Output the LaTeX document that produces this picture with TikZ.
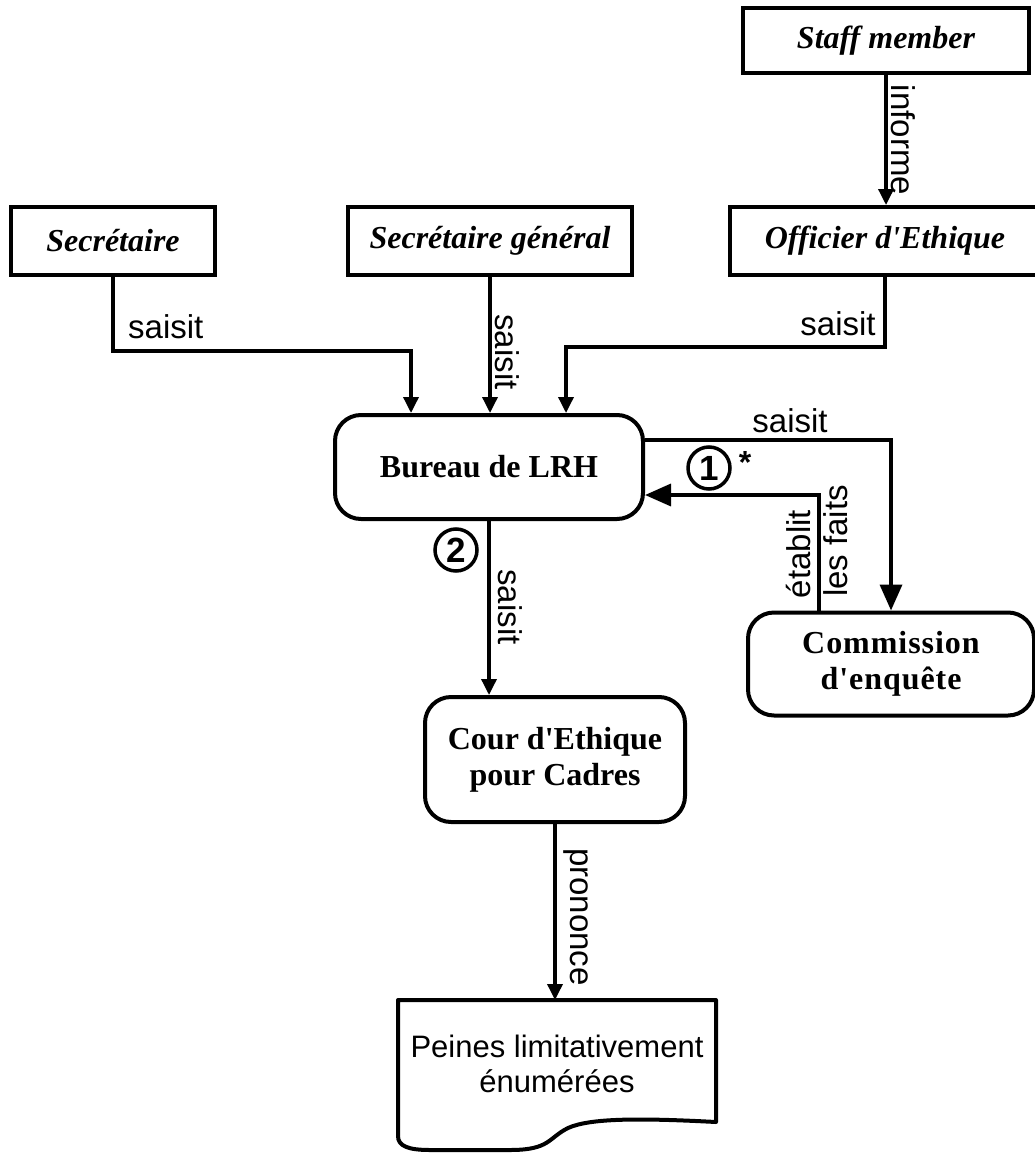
\documentclass[tikz,border=0pt]{standalone}
\usepackage{fontspec}
\setmainfont{Liberation Serif}
\setsansfont{Liberation Sans}
% box captions keep the straight apostrophe
\newfontfamily\boxfont{Liberation Serif}
\usetikzlibrary{arrows.meta,calc}
\begin{document}
\begin{tikzpicture}[x=1pt,y=-1pt,
  actor/.style={draw,line width=4pt,inner sep=0pt,
    font=\boxfont\fontsize{32}{36}\selectfont\bfseries\itshape},
  organ/.style={draw,line width=4pt,rounded corners=26pt,inner sep=0pt,align=center,
    font=\boxfont\fontsize{32}{36}\selectfont\bfseries},
  lbl/.style={inner sep=0pt,font=\sffamily\fontsize{33}{36}\selectfont},
  num/.style={draw,circle,line width=3.5pt,inner sep=0pt,minimum size=42pt,
    font=\sffamily\bfseries\fontsize{35}{35}\selectfont},
  conn/.style={line width=3.5pt,-{Triangle[length=16pt,width=15pt]}},
  connbig/.style={line width=3.5pt,-{Triangle[length=26pt,width=22pt]}}]
\useasboundingbox (0,0) rectangle (1034,1153);

% actors
\node[actor,minimum width=286pt,minimum height=65pt] (staff) at (886,40.5) {Staff member};
\node[actor,minimum width=310pt,minimum height=68pt] (officier) at (885,241) {Officier d'Ethique};
\node[actor,minimum width=204pt,minimum height=68pt] (sec) at (113,241) {Secrétaire};
\node[actor,minimum width=284pt,minimum height=68pt] (secgen) at (490,241) {Secrétaire général};

% organs
\node[organ,minimum width=308pt,minimum height=104pt] (bureau) at (489,467) {Bureau de LRH};
\node[organ,minimum width=286pt,minimum height=103pt,
  font=\boxfont\fontsize{32}{36}\selectfont\bfseries\addfontfeatures{LetterSpace=3}]
  (commission) at (891,664) {Commission\\d'enquête};
\node[organ,minimum width=260pt,minimum height=125pt] (cour) at (555,759.5) {Cour d'Ethique\\pour Cadres};

% document with the sanctions
\draw[line width=4pt,line join=round]
  (398,1000) -- (716,1000) -- (716,1122)
  .. controls (640,1118) and (590,1118) .. (568,1128)
  .. controls (548,1138) and (550,1150) .. (510,1150)
  -- (430,1150) .. controls (408,1150) and (398,1146) .. (398,1136) -- cycle;
\node[lbl,align=center,font=\sffamily\fontsize{31}{35}\selectfont] (peines) at (557,1064)
  {Peines limitativement\\énumérées};
\coordinate (peinestop) at (555,1000);

% junctions
\coordinate (j1) at (411,351);
\coordinate (j2) at (566,347);

% connectors
\draw[conn] (staff.south) -- (staff.south |- officier.north);
\draw[conn] (sec.south) |- (j1) -- (j1 |- bureau.north);
\draw[conn] (secgen.south) -- (secgen.south |- bureau.north);
\draw[conn] (officier.south) |- (j2) -- (j2 |- bureau.north);
\draw[connbig] (bureau.east |- 0,440) -| (commission.north);
\draw[connbig] (commission.north -| 819,0) |- (bureau.east |- 0,495);
\draw[conn] (bureau.south) -- (bureau.south |- cour.north);
\draw[conn] (cour.south) -- (peinestop);

% connector labels
\node[lbl,rotate=-90] (linforme) at (903,140) {informe};
\node[lbl,anchor=base west] (lsec) at (128,338) {saisit};
\node[lbl,rotate=-90] (lsecgen) at (507,352) {saisit};
\node[lbl,anchor=base] (lofficier) at (838,335) {saisit};
\node[lbl,anchor=base] (lcomm) at (790,432) {saisit};
\node[lbl,rotate=90] (letablit) at (798,554) {établit};
\node[lbl,rotate=90] (lfaits) at (836,541) {les faits};
\node[lbl,rotate=-90] (lcour) at (510,607) {saisit};
\node[lbl,rotate=-90] (lprononce) at (576,917) {prononce};

% step numbers
\node[num] (n1) at (709,468) {1};
\node[lbl,anchor=base,font=\sffamily\bfseries\fontsize{32}{32}\selectfont] (ast) at (745,473) {*};
\node[num] (n2) at (456,550) {2};
\end{tikzpicture}
\end{document}
